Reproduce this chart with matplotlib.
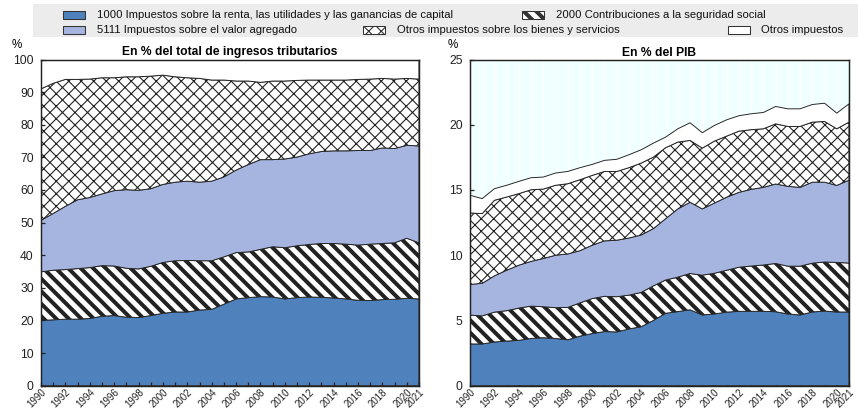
import numpy as np
import matplotlib.pyplot as plt
from matplotlib.patches import Rectangle

DPI = 150


def pt(px):
    # pixeles -> puntos (la figura se guarda a 150 dpi)
    return px * 72 / DPI


plt.rcParams['font.family'] = ['Liberation Sans', 'DejaVu Sans']

# ---------------------------
# Datos
# ---------------------------
years = np.arange(1990, 2022)

# En % del total de ingresos tributarios
tot_renta = [20.0, 20.2, 20.4, 20.4, 20.6, 21.3, 21.5, 21.0, 20.9, 21.5, 22.2, 22.6, 22.6, 23.2, 23.4, 25.0,
             26.6, 27.0, 27.3, 27.2, 26.6, 27.0, 27.2, 27.1, 26.9, 26.6, 26.2, 26.1, 26.4, 26.5, 26.8, 26.6]
tot_segsoc = [14.9, 15.2, 15.2, 15.5, 15.6, 15.5, 15.2, 15.0, 14.9, 15.1, 15.6, 15.7, 15.8, 15.1, 14.9, 14.5,
              14.2, 14.0, 14.5, 15.4, 15.7, 15.9, 16.1, 16.5, 16.7, 16.8, 16.9, 17.3, 17.2, 17.3, 18.4, 17.2]
tot_iva = [15.8, 17.4, 19.4, 21.1, 21.5, 22.0, 23.1, 24.1, 24.1, 23.8, 23.9, 24.1, 24.3, 24.1, 24.4, 24.5,
           25.3, 26.8, 27.5, 26.7, 27.2, 27.2, 27.8, 28.2, 28.4, 28.6, 29.0, 28.7, 29.3, 28.9, 28.5, 29.7]
tot_bienes = [40.3, 39.9, 38.9, 36.9, 36.3, 35.6, 34.6, 34.6, 34.8, 34.5, 33.5, 32.3, 31.7, 31.8, 31.0, 29.7,
              27.3, 25.6, 23.7, 24.1, 23.9, 23.5, 22.6, 21.9, 21.7, 21.7, 21.8, 21.9, 21.3, 21.3, 20.5, 20.5]
tot_otros = [9.0, 7.3, 6.1, 6.1, 6.0, 5.6, 5.6, 5.3, 5.3, 5.1, 4.8, 5.3, 5.6, 5.8, 6.3, 6.3,
             6.6, 6.6, 7.0, 6.6, 6.6, 6.4, 6.3, 6.3, 6.3, 6.3, 6.1, 6.0, 5.8, 6.0, 5.8, 6.0]

# En % del PIB
pib_renta = [3.20, 3.20, 3.35, 3.42, 3.48, 3.62, 3.68, 3.62, 3.52, 3.80, 4.00, 4.15, 4.12, 4.35, 4.52, 5.00,
             5.55, 5.68, 5.82, 5.42, 5.50, 5.64, 5.70, 5.70, 5.70, 5.67, 5.50, 5.42, 5.65, 5.72, 5.65, 5.65]
pib_segsoc = [2.21, 2.15, 2.29, 2.33, 2.47, 2.48, 2.37, 2.36, 2.48, 2.55, 2.68, 2.70, 2.70, 2.59, 2.63, 2.65,
              2.55, 2.64, 2.78, 3.05, 3.12, 3.21, 3.38, 3.47, 3.55, 3.70, 3.66, 3.74, 3.74, 3.76, 3.80, 3.75]
pib_iva = [2.35, 2.50, 2.78, 3.10, 3.29, 3.43, 3.70, 4.02, 4.10, 4.00, 4.09, 4.25, 4.33, 4.38, 4.40, 4.39,
           4.70, 5.23, 5.46, 5.08, 5.38, 5.60, 5.74, 5.88, 5.95, 6.09, 6.12, 6.04, 6.21, 6.12, 5.90, 6.35]
pib_bienes = [5.48, 5.34, 5.79, 5.61, 5.48, 5.49, 5.32, 5.36, 5.38, 5.44, 5.35, 5.32, 5.27, 5.39, 5.51, 5.48,
              5.44, 5.12, 4.74, 4.66, 4.75, 4.68, 4.69, 4.57, 4.49, 4.61, 4.59, 4.67, 4.60, 4.65, 4.34, 4.45]
pib_otros = [1.35, 1.15, 0.89, 0.90, 0.94, 0.92, 0.92, 0.94, 0.94, 0.92, 0.84, 0.85, 0.93, 0.99, 1.02, 1.07,
             0.81, 1.02, 1.35, 1.18, 1.20, 1.25, 1.18, 1.22, 1.25, 1.33, 1.35, 1.35, 1.35, 1.40, 1.20, 1.40]

etiquetas = ['1000 Impuestos sobre la renta, las utilidades y las ganancias de capital',
             '2000 Contribuciones a la seguridad social',
             '5111 Impuestos sobre el valor agregado',
             'Otros impuestos sobre los bienes y servicios',
             'Otros impuestos']

# estilo de cada capa: color, trama, grosor de trama
estilos = [('#4f81bd', '', 0.5),
           ('white', '\\\\\\\\', pt(4.0)),
           ('#a6b5e0', '', 0.5),
           ('white', 'xxxx', pt(1.1)),
           ('white', '', 0.5)]


def con_trama(crear, hlw):
    with plt.rc_context({'hatch.linewidth': hlw}):
        art = crear()
    if hasattr(art, 'set_hatch_linewidth'):
        art.set_hatch_linewidth(hlw)
    return art


# ---------------------------
# Figura
# ---------------------------
fig = plt.figure(figsize=(858 / DPI, 410 / DPI), dpi=DPI)

W, H = 858, 410
ax1 = fig.add_axes([41 / W, 1 - 385.7 / H, 378 / W, 326.2 / H])
ax2 = fig.add_axes([470 / W, 1 - 385.7 / H, 379 / W, 326.2 / H])

paneles = [(ax1, [tot_renta, tot_segsoc, tot_iva, tot_bienes, tot_otros], 100, 10,
            'En % del total de ingresos tributarios', 'white'),
           (ax2, [pib_renta, pib_segsoc, pib_iva, pib_bienes, pib_otros], 25, 5,
            'En % del PIB', '#f0ffff')]

for ax, series, ymax, paso, titulo, fondo in paneles:
    ax.set_facecolor(fondo)
    base = np.zeros(len(years))
    for vals, (color, hatch, hlw) in zip(series, estilos):
        top = base + np.array(vals)
        con_trama(lambda: ax.fill_between(years, base, top, facecolor=color, hatch=hatch,
                                          edgecolor='#222222', linewidth=0.45), hlw)
        base = top

    ax.set_xlim(1990, 2021)
    ax.set_ylim(0, ymax)
    ax.set_yticks(np.arange(0, ymax + 1, paso))
    ax.set_xticks(years, labels=[str(y) if (y % 2 == 0 or y == 2021) else '' for y in years])
    ax.tick_params(axis='both', direction='in', length=pt(4), width=0.6, labelsize=5.8,
                   colors='#222222')
    ax.tick_params(axis='x', labelsize=4.7, pad=pt(1))
    plt.setp(ax.get_xticklabels(), rotation=45, ha='right', rotation_mode='anchor')
    if fondo != 'white':
        ax.grid(axis='x', color='white', linewidth=0.6)
        ax.set_axisbelow(True)
    for s in ax.spines.values():
        s.set_linewidth(0.7)
        s.set_color('#222222')
    ax.set_title(titulo, fontsize=5.8, fontweight='bold', pad=pt(4))

fig.text(17 / W, 1 - 45 / H, '%', fontsize=5.6, ha='center', va='center')
fig.text(453 / W, 1 - 45 / H, '%', fontsize=5.6, ha='center', va='center')

# ---------------------------
# Leyenda (banda gris arriba)
# ---------------------------
fig.patches.append(Rectangle((33 / W, 1 - 37 / H), (W - 33) / W, 33 / H, transform=fig.transFigure,
                             facecolor='#ececec', edgecolor='none', zorder=0))

pos_leyenda = [(63, 15, 97), (522, 15, 556), (63, 30, 97), (363, 30, 397), (728, 30, 761)]
for (px, py, tx), texto, (color, hatch, hlw) in zip(pos_leyenda, etiquetas, estilos):
    r = con_trama(lambda: Rectangle((px / W, 1 - (py + 3.5) / H), 22 / W, 7 / H,
                                    transform=fig.transFigure, facecolor=color, hatch=hatch,
                                    edgecolor='#333333', linewidth=0.5), hlw)
    fig.patches.append(r)
    fig.text(tx / W, 1 - py / H, texto, fontsize=5.4, ha='left', va='center', color='#111111')

fig.savefig('out.png', dpi=DPI)
